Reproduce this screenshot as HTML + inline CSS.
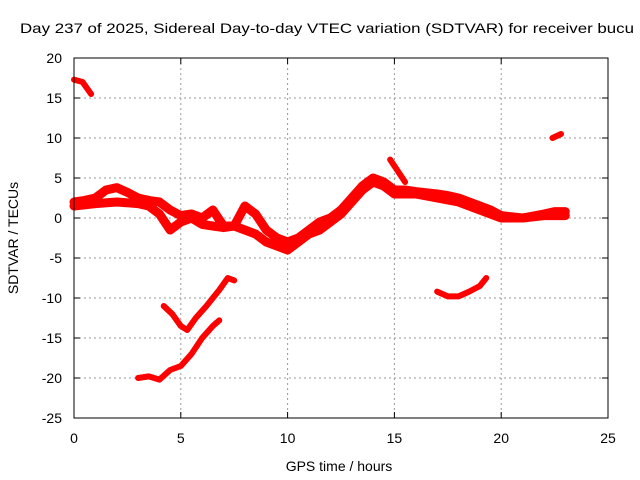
<!DOCTYPE html>
<html><head><meta charset="utf-8"><style>
body{margin:0;background:#fff}
svg{display:block;font-family:"Liberation Sans",sans-serif}
</style></head><body>
<svg id="c" width="640" height="480">
<text x="20" y="33" font-size="14" textLength="614" lengthAdjust="spacingAndGlyphs">Day 237 of 2025, Sidereal Day-to-day VTEC variation (SDTVAR) for receiver bucu</text>
<text x="339" y="471" font-size="14" text-anchor="middle">GPS time / hours</text>
<text transform="translate(18,238) rotate(-90)" font-size="14" text-anchor="middle">SDTVAR / TECUs</text>
<g id="grid"></g><g id="series"></g>
<rect x="74" y="58" width="534" height="360" fill="none" stroke="#000" stroke-width="1"/>
</svg>
<script>
const xTicks=[0,5,10,15,20,25];
const yTicks=[20,15,10,5,0,-5,-10,-15,-20,-25];
const traceUpper=[[0,2],[0.5,2.2],[1,2.5],[1.5,3.5],[2,3.8],[2.5,3.2],[3,2.5],[3.5,2.2],[4,2],[4.5,1],[5,0.3],[5.5,0.5],[6,0],[6.5,1],[7,-1],[7.5,-1],[8,1.5],[8.5,0.5],[9,-1.5],[9.5,-2.5],[10,-3],[10.5,-2.5],[11,-1.5],[11.5,-0.5],[12,0],[12.5,1],[13,2.5],[13.5,4],[14,5],[14.5,4.5],[15,3.5],[15.5,3.5],[16,3.3],[17,3],[17.5,2.8],[18,2.5],[18.5,2],[19,1.5],[19.5,1],[20,0.3],[21,0],[22,0.5],[22.5,0.8],[23,0.8]];
const traceLower=[[0,1.5],[1,1.8],[2,2],[3,1.8],[3.5,1.5],[4,0.5],[4.5,-1.5],[5,-0.5],[5.5,0],[6,-0.8],[6.5,-1],[7,-1.2],[7.5,-1],[8,-1.5],[8.5,-2],[9,-3],[9.5,-3.5],[10,-4],[10.5,-3],[11,-2],[11.5,-1.5],[12,-0.5],[12.5,0.5],[13,2],[13.5,3.5],[14,4.5],[14.5,4],[15,3],[16,3],[17,2.5],[18,2],[18.5,1.5],[19,1],[19.5,0.5],[20,0],[21,0],[22,0.3],[23,0.3]];
const traceSpike=[[14.8,7.3],[15.5,4.5]];
const traceStart=[[0,17.3],[0.4,17],[0.8,15.5]];
const traceEnd=[[22.4,10],[22.8,10.5]];
const traceDip1=[[4.2,-11],[4.6,-12],[5,-13.5],[5.3,-14],[5.7,-12.5],[6.2,-11],[6.8,-9],[7.2,-7.5],[7.5,-7.8]];
const traceDip2=[[3,-20],[3.5,-19.8],[4,-20.2],[4.5,-19],[5,-18.5],[5.5,-17],[6,-15],[6.5,-13.5],[6.8,-12.8]];
const traceDip3=[[17,-9.2],[17.5,-9.8],[18,-9.8],[18.5,-9.2],[19,-8.5],[19.3,-7.5]];
const X=t=>74+t*534/25, Y=v=>58+(20-v)*8;
const NS="http://www.w3.org/2000/svg";
const g=document.getElementById('grid'), s=document.getElementById('series');
function mk(tag,a,p){const e=document.createElementNS(NS,tag);for(const k in a)e.setAttribute(k,a[k]);p.appendChild(e);return e;}
xTicks.forEach(t=>{
 if(t>0&&t<25){const l=mk('line',{x1:X(t),x2:X(t),y1:58,y2:418,stroke:'#999','stroke-dasharray':'2,3'},g);
 
 }
 const k=mk('line',{x1:X(t),x2:X(t),y1:418,y2:412,stroke:'#000'},g);
 
 
 const k2=mk('line',{x1:X(t),x2:X(t),y1:58,y2:64,stroke:'#000'},g);
 
 
 const tx=mk('text',{x:X(t),y:443,'font-size':14,'text-anchor':'middle'},g);tx.textContent=t;
 
 
});
yTicks.forEach(v=>{
 if(v<20&&v>-25){const l=mk('line',{x1:74,x2:608,y1:Y(v),y2:Y(v),stroke:'#999','stroke-dasharray':'2,3'},g);
 
 }
 const k=mk('line',{x1:74,x2:80,y1:Y(v),y2:Y(v),stroke:'#000'},g);
 
 
 const k2=mk('line',{x1:602,x2:608,y1:Y(v),y2:Y(v),stroke:'#000'},g);
 
 
 const tx=mk('text',{x:62,y:Y(v)+5,'font-size':14,'text-anchor':'end'},g);tx.textContent=v;
 
 
});
[[traceUpper,9],[traceLower,9],[traceSpike,6],[traceStart,6],[traceEnd,6],[traceDip1,6],[traceDip2,6],[traceDip3,6]].forEach(([tr,w])=>{
 const p=mk('polyline',{points:tr.map(d=>X(d[0])+','+Y(d[1])).join(' '),fill:'none',stroke:'#f00','stroke-width':w,'stroke-linejoin':'round','stroke-linecap':'round'},s);
 
 
});
</script>
</body></html>
